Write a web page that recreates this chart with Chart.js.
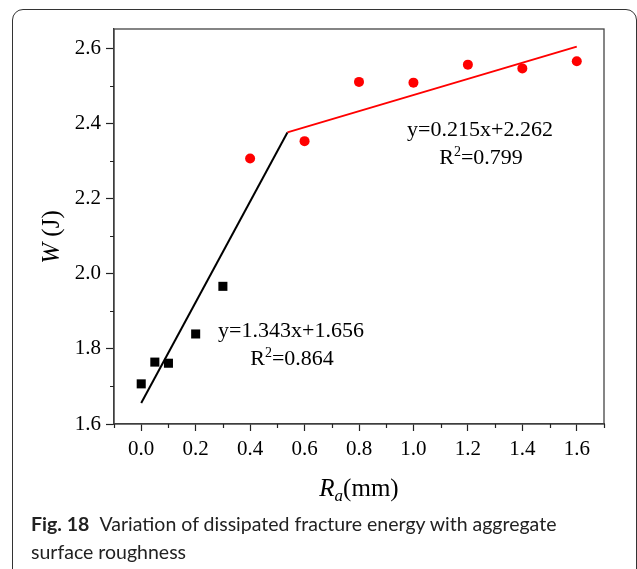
<!DOCTYPE html>
<html>
<head>
<meta charset="utf-8">
<script src="https://cdn.jsdelivr.net/npm/chart.js@4/dist/chart.umd.min.js"></script>
<style>
  html, body { margin: 0; padding: 0; background: #fff; }
  #wrap { position: relative; width: 637px; height: 569px; overflow: hidden; }
  #box { position: absolute; left: 12px; top: 9px; width: 625px; height: 600px;
         border: 1.3px solid #333; border-radius: 11px; box-sizing: border-box; }
  #chart { position: absolute; left: 0; top: 0; }
  #caption { position: absolute; left: 31px; top: 510px; font-family: Lato, "Noto Sans", sans-serif;
             font-size: 19.5px; line-height: 28px; color: #222; white-space: nowrap; }
  #caption b { font-weight: 700; margin-right: 6px; }
</style>
</head>
<body>
<div id="wrap">
  <div id="box"></div>
  <canvas id="chart" width="637" height="569"></canvas>
  <div id="caption"><b>Fig. 18</b> Variation of dissipated fracture energy with aggregate<br>surface roughness</div>
</div>
<script>
// Measured points: surface roughness Ra (mm) vs dissipated fracture energy W (J)
const roughLow = [0, 0.05, 0.1, 0.2, 0.3];
const energyLow = [1.707, 1.765, 1.762, 1.840, 1.967];
const roughHigh = [0.4, 0.6, 0.8, 1.0, 1.2, 1.4, 1.6];
const energyHigh = [2.308, 2.354, 2.512, 2.510, 2.558, 2.548, 2.567];

// Linear fits for the two regimes (low, high)
const fitSlopes = [1.343, 0.215];
const fitIntercepts = [1.656, 2.262];
const fitR2 = ['0.864', '0.799'];
const fitStartX = [0, 0.537];
const fitEndX = [0.537, 1.6];
const fitColors = ['#000000', '#ff0000'];

// Axis ranges
const xRange = [-0.1, 1.7];
const yRange = [1.6, 2.653];

const toPoints = (xs, ys) => xs.map((x, i) => ({ x, y: ys[i] }));
const fitLine = (i) => [fitStartX[i], fitEndX[i]].map(x => ({ x, y: fitSlopes[i] * x + fitIntercepts[i] }));
const isMajor = (v) => Math.abs(Math.round(v * 10)) % 2 === 0;

const SERIF = '"Liberation Serif", "Times New Roman", serif';

// Minor ticks, plot frame, axis titles and fit equations
const decorations = {
  id: 'decorations',
  afterDraw(chart) {
    const { ctx, chartArea: a, scales: { x, y } } = chart;
    ctx.save();
    // frame around plot area
    ctx.strokeStyle = '#444';
    ctx.lineWidth = 1.3;
    ctx.strokeRect(a.left, a.top, a.right - a.left, a.bottom - a.top);

    // minor ticks
    ctx.strokeStyle = '#222';
    ctx.lineWidth = 1.2;
    ctx.beginPath();
    x.ticks.forEach(t => {
      if (!isMajor(t.value)) {
        const px = Math.round(x.getPixelForValue(t.value)) + 0.5;
        ctx.moveTo(px, a.bottom); ctx.lineTo(px, a.bottom + 4);
      }
    });
    y.ticks.forEach(t => {
      if (!isMajor(t.value)) {
        const py = Math.round(y.getPixelForValue(t.value)) + 0.5;
        ctx.moveTo(a.left, py); ctx.lineTo(a.left - 4, py);
      }
    });
    ctx.stroke();

    ctx.fillStyle = '#000';
    ctx.textBaseline = 'alphabetic';

    // x-axis title: R_a(mm)
    {
      const big = 'italic 25px ' + SERIF, sub = 'italic 17px ' + SERIF, reg = '25px ' + SERIF;
      ctx.font = big; const wR = ctx.measureText('R').width;
      ctx.font = sub; const wa = ctx.measureText('a').width;
      ctx.font = reg; const wm = ctx.measureText('(mm)').width;
      let cx = (a.left + a.right) / 2 - (wR + wa + wm) / 2;
      const base = 496;
      ctx.textAlign = 'left';
      ctx.font = big; ctx.fillText('R', cx, base); cx += wR;
      ctx.font = sub; ctx.fillText('a', cx, base + 5); cx += wa;
      ctx.font = reg; ctx.fillText('(mm)', cx, base);
    }

    // y-axis title: W (J)
    {
      ctx.save();
      ctx.translate(59, 237);
      ctx.rotate(-Math.PI / 2);
      const it = 'italic 25px ' + SERIF, reg = '25px ' + SERIF;
      ctx.font = it; const wW = ctx.measureText('W').width;
      ctx.font = reg; const wJ = ctx.measureText(' (J)').width;
      let cx = -(wW + wJ) / 2;
      ctx.textAlign = 'left';
      ctx.font = it; ctx.fillText('W', cx, 0); cx += wW;
      ctx.font = reg; ctx.fillText(' (J)', cx, 0);
      ctx.restore();
    }

    // fit equations
    const labelPos = [[291, 337, 292, 365], [480, 136, 481, 164]];
    fitSlopes.forEach((s, i) => {
      const [ex, ey, rx, ry] = labelPos[i];
      ctx.font = '22px ' + SERIF;
      ctx.textAlign = 'center';
      ctx.fillText('y=' + s.toFixed(3) + 'x+' + fitIntercepts[i].toFixed(3), ex, ey);
      const main = '22px ' + SERIF, sup = '14px ' + SERIF;
      ctx.font = main; const wR = ctx.measureText('R').width;
      const rest = '=' + fitR2[i]; const wRest = ctx.measureText(rest).width;
      ctx.font = sup; const w2 = ctx.measureText('2').width;
      let cx = rx - (wR + w2 + wRest) / 2;
      ctx.textAlign = 'left';
      ctx.font = main; ctx.fillText('R', cx, ry); cx += wR;
      ctx.font = sup; ctx.fillText('2', cx, ry - 8); cx += w2;
      ctx.font = main; ctx.fillText(rest, cx, ry);
    });
    ctx.restore();
  }
};

const tickFont = { family: SERIF, size: 21 };

new Chart(document.getElementById('chart'), {
  type: 'scatter',
  data: {
    datasets: [
      { data: toPoints(roughLow, energyLow), pointStyle: 'rect', pointRadius: 6.4,
        backgroundColor: '#000', borderColor: '#000', borderWidth: 0 },
      { data: toPoints(roughHigh, energyHigh), pointStyle: 'circle', pointRadius: 5,
        backgroundColor: '#ff0000', borderColor: '#ff0000', borderWidth: 0 },
      { data: fitLine(0), showLine: true, pointRadius: 0, borderColor: fitColors[0], borderWidth: 2 },
      { data: fitLine(1), showLine: true, pointRadius: 0, borderColor: fitColors[1], borderWidth: 2 }
    ]
  },
  options: {
    responsive: false,
    animation: false,
    devicePixelRatio: 1,
    layout: { padding: { left: 0, top: 29, right: 33, bottom: 85 } },
    plugins: { legend: { display: false }, tooltip: { enabled: false } },
    scales: {
      x: {
        type: 'linear', min: xRange[0], max: xRange[1],
        afterFit: (s) => { s.height = 60; },
        border: { display: true, color: '#333', width: 1.3 },
        grid: { drawOnChartArea: false, drawTicks: true, tickLength: 7, tickWidth: 1.2,
                tickColor: (c) => (c.tick && isMajor(c.tick.value)) ? '#222' : 'rgba(0,0,0,0)' },
        ticks: { stepSize: 0.1, includeBounds: false, padding: 6, color: '#000', font: tickFont,
                 maxRotation: 0, autoSkip: false,
                 callback: (v) => isMajor(v) ? Number(v).toFixed(1) : '' }
      },
      y: {
        type: 'linear', min: yRange[0], max: yRange[1],
        afterFit: (s) => { s.width = 114; },
        border: { display: true, color: '#333', width: 1.3 },
        grid: { drawOnChartArea: false, drawTicks: true, tickLength: 8, tickWidth: 1.2,
                tickColor: (c) => (c.tick && isMajor(c.tick.value)) ? '#222' : 'rgba(0,0,0,0)' },
        ticks: { stepSize: 0.1, includeBounds: false, padding: 5, color: '#000', font: tickFont,
                 autoSkip: false,
                 callback: (v) => isMajor(v) ? Number(v).toFixed(1) : '' }
      }
    }
  },
  plugins: [decorations]
});
</script>
</body>
</html>
